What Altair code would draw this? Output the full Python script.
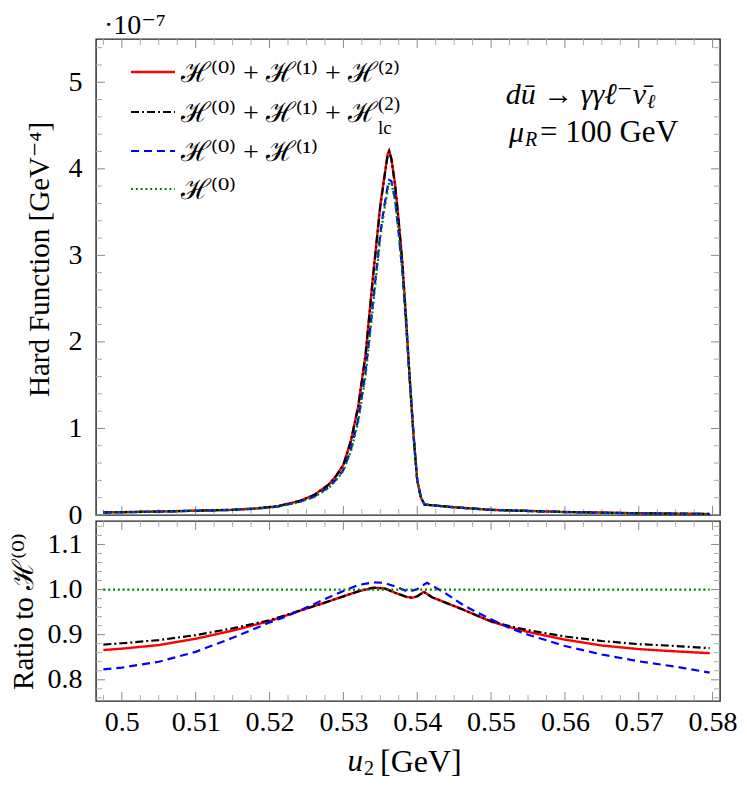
import altair as alt
import pandas as pd

FONT = "Liberation Serif, DejaVu Serif"

# ---------------- data ----------------
# top panel: hard function, in units of 1e-7 GeV^-4
u_top = [0.4975, 0.505, 0.51, 0.515, 0.518, 0.521, 0.524, 0.526, 0.528, 0.529,
         0.53, 0.531, 0.532, 0.533, 0.534, 0.535, 0.5355, 0.536, 0.5362, 0.5365,
         0.537, 0.5375, 0.538, 0.5385, 0.539, 0.5395, 0.54, 0.5405, 0.541, 0.545,
         0.55, 0.56, 0.57, 0.5796]
h_nnlo = [0.03, 0.04, 0.05, 0.06, 0.075, 0.10, 0.16, 0.23, 0.35, 0.45,
          0.58, 0.85, 1.25, 1.85, 2.75, 3.58, 3.88, 4.17, 4.21, 4.12,
          3.82, 3.39, 2.90, 2.25, 1.55, 0.92, 0.40, 0.20, 0.12, 0.09,
          0.06, 0.035, 0.02, 0.012]
h_nnlo_lc = [0.03, 0.04, 0.05, 0.06, 0.075, 0.10, 0.16, 0.23, 0.35, 0.45,
             0.58, 0.85, 1.25, 1.85, 2.74, 3.57, 3.87, 4.16, 4.20, 4.11,
             3.81, 3.38, 2.90, 2.25, 1.55, 0.92, 0.40, 0.20, 0.12, 0.09,
             0.06, 0.035, 0.02, 0.012]
h_nlo = [0.028, 0.038, 0.048, 0.058, 0.072, 0.095, 0.15, 0.21, 0.32, 0.41,
         0.52, 0.75, 1.10, 1.65, 2.45, 3.25, 3.55, 3.80, 3.87, 3.86,
         3.65, 3.25, 2.80, 2.20, 1.55, 0.92, 0.40, 0.20, 0.12, 0.088,
         0.058, 0.033, 0.019, 0.011]
h_lo = [0.028, 0.038, 0.048, 0.058, 0.072, 0.094, 0.148, 0.205, 0.31, 0.40,
        0.51, 0.73, 1.07, 1.60, 2.40, 3.20, 3.50, 3.76, 3.84, 3.84,
        3.63, 3.24, 2.80, 2.20, 1.55, 0.92, 0.40, 0.20, 0.12, 0.088,
        0.058, 0.033, 0.019, 0.011]

# bottom panel: ratio to H^(0)
u_ratio = [0.4975, 0.5, 0.505, 0.51, 0.515, 0.52, 0.5225, 0.525, 0.5275, 0.53,
           0.532, 0.534, 0.5355, 0.537, 0.5385, 0.5393, 0.54, 0.5409, 0.542, 0.544,
           0.546, 0.548, 0.55, 0.5525, 0.555, 0.56, 0.565, 0.57, 0.575, 0.5796]
r_nnlo = [0.866, 0.869, 0.877, 0.891, 0.909, 0.930, 0.944, 0.958, 0.971, 0.985,
          0.996, 1.004, 1.003, 0.993, 0.984, 0.982, 0.985, 0.995, 0.983, 0.970,
          0.957, 0.943, 0.929, 0.917, 0.906, 0.889, 0.876, 0.868, 0.863, 0.859]
r_nnlo_lc = [0.878, 0.881, 0.888, 0.899, 0.914, 0.932, 0.945, 0.958, 0.971, 0.985,
             0.996, 1.004, 1.003, 0.993, 0.984, 0.982, 0.985, 0.995, 0.983, 0.970,
             0.957, 0.943, 0.930, 0.919, 0.910, 0.896, 0.886, 0.879, 0.875, 0.870]
u_ratio_nlo = [0.4975, 0.5, 0.505, 0.51, 0.515, 0.52, 0.5225, 0.525, 0.5275, 0.53,
               0.532, 0.534, 0.5355, 0.537, 0.5388, 0.540, 0.5413, 0.542, 0.544, 0.546,
               0.548, 0.55, 0.5525, 0.555, 0.56, 0.565, 0.57, 0.575, 0.5796]
r_nlo = [0.823, 0.827, 0.840, 0.862, 0.893, 0.927, 0.942, 0.960, 0.979, 0.997,
         1.010, 1.016, 1.015, 1.007, 0.995, 1.001, 1.015, 1.009, 0.990, 0.968,
         0.950, 0.934, 0.915, 0.900, 0.875, 0.856, 0.841, 0.829, 0.816]
u_ratio_lo = [0.4975, 0.5796]
r_lo = [1.0, 1.0]

# axes / ticks
x_domain = [0.4965, 0.581]
top_domain = [0.0, 5.5]
bot_domain = [0.753, 1.152]
x_major = [0.50, 0.51, 0.52, 0.53, 0.54, 0.55, 0.56, 0.57, 0.58]
x_minor = [0.4975] + [round(0.5 + 0.0025 * i, 4) for i in range(1, 33) if i % 4 != 0]
top_major = [0, 1, 2, 3, 4, 5]
top_minor = [round(0.2 * i, 1) for i in range(1, 28) if i % 5 != 0]
bot_major = [0.8, 0.9, 1.0, 1.1]
bot_minor = [round(0.76 + 0.02 * i, 2) for i in range(0, 20)
             if round(0.76 + 0.02 * i, 2) not in (0.8, 0.9, 1.0, 1.1)]
bot_minor = [v for v in bot_minor if bot_domain[0] <= v <= bot_domain[1]]

legend_labels = ["ℋ⁽⁰⁾ + ℋ⁽¹⁾ + ℋ⁽²⁾", "ℋ⁽⁰⁾ + ℋ⁽¹⁾ + ℋ", "ℋ⁽⁰⁾ + ℋ⁽¹⁾", "ℋ⁽⁰⁾"]

styles = {
    "nnlo": dict(color="#ff0000", dash=[1, 0], width=2.4),
    "nnlo_lc": dict(color="#000000", dash=[8, 3, 2, 3], width=2.2),
    "nlo": dict(color="#0000ff", dash=[8, 5], width=2.2),
    "lo": dict(color="#008000", dash=[2, 2.8], width=2.2),
}
order = ["nnlo", "nnlo_lc", "nlo", "lo"]

W = 624
H_TOP = 476
H_BOT = 180

xs = alt.Scale(domain=x_domain, nice=False, zero=False)
ys_top = alt.Scale(domain=top_domain, nice=False, zero=False)
ys_bot = alt.Scale(domain=bot_domain, nice=False, zero=False)

top_yaxis = alt.Axis(values=top_major, format="d", title="Hard Function [GeV⁻⁴]",
                     labelPadding=14, titlePadding=14, titleY=220)
bot_yaxis = alt.Axis(values=bot_major, format=".1f", title="Ratio to ℋ⁽⁰⁾",
                     labelPadding=14, titlePadding=9)
bot_xaxis = alt.Axis(values=x_major, format="~f", title=None, labelPadding=7)

one = pd.DataFrame({"k": [0]})


def line_layer(u, v, key, yscale, yaxis, xaxis):
    s = styles[key]
    df = pd.DataFrame({"u": u, "v": v})
    return alt.Chart(df).mark_line(color=s["color"], strokeDash=s["dash"],
                                   strokeWidth=s["width"], clip=True).encode(
        x=alt.X("u:Q", scale=xs, axis=xaxis),
        y=alt.Y("v:Q", scale=yscale, axis=yaxis),
    )


def tick_layers(xvals, yvals, yscale, yaxis, xaxis, h, size, color):
    layers = []
    dx = pd.DataFrame({"u": xvals})
    dy = pd.DataFrame({"v": yvals})
    layers.append(alt.Chart(dx).mark_rule(color=color, strokeWidth=1).encode(
        x=alt.X("u:Q", scale=xs, axis=xaxis), y=alt.value(0), y2=alt.value(size)))
    layers.append(alt.Chart(dx).mark_rule(color=color, strokeWidth=1).encode(
        x=alt.X("u:Q", scale=xs, axis=xaxis), y=alt.value(h), y2=alt.value(h - size)))
    layers.append(alt.Chart(dy).mark_rule(color=color, strokeWidth=1).encode(
        y=alt.Y("v:Q", scale=yscale, axis=yaxis), x=alt.value(0), x2=alt.value(size)))
    layers.append(alt.Chart(dy).mark_rule(color=color, strokeWidth=1).encode(
        y=alt.Y("v:Q", scale=yscale, axis=yaxis), x=alt.value(W), x2=alt.value(W - size)))
    return layers


def txt(s, x, y, size=28, align="left", style="normal", baseline="middle"):
    return alt.Chart(one).mark_text(align=align, baseline=baseline, font=FONT,
                                    fontSize=size, fontStyle=style, color="black").encode(
        x=alt.value(x), y=alt.value(y), text=alt.value(s))


def legend_rule(key, y):
    s = styles[key]
    return alt.Chart(one).mark_rule(color=s["color"], strokeDash=s["dash"],
                                    strokeWidth=s["width"]).encode(
        x=alt.value(35), x2=alt.value(79), y=alt.value(y))


# ---------------- top panel ----------------
top_layers = []
top_layers += tick_layers(x_minor, top_minor, ys_top, top_yaxis, None, H_TOP, 6, "#aaaaaa")
top_layers += tick_layers(x_major, top_major, ys_top, top_yaxis, None, H_TOP, 9, "#888888")
top_series = {"nnlo": h_nnlo, "nnlo_lc": h_nnlo_lc, "nlo": h_nlo, "lo": h_lo}
for k in order:
    top_layers.append(line_layer(u_top, top_series[k], k, ys_top, top_yaxis, None))

leg_y = [33, 73, 112, 150]
for k, y, lab in zip(order, leg_y, legend_labels):
    top_layers.append(legend_rule(k, y))
    top_layers.append(txt(lab, 85, y + 2))
# super/subscript of the leading-colour term
top_layers.append(txt("(2)", 282, 65, size=19))
top_layers.append(txt("lc", 282, 89, size=19))

top_layers.append(txt("dū → γγℓ⁻ν̄", 550, 56, size=30, style="italic", align="right"))
top_layers.append(txt("ℓ", 551, 63, size=20, style="italic"))
top_layers.append(txt("μ", 428, 94, size=30, style="italic", align="right"))
top_layers.append(txt("R", 429, 101, size=20, style="italic"))
top_layers.append(txt("= 100 GeV", 444, 94, size=31))
top_layers.append(txt("·10⁻⁷", 8, -13, size=28))

top = alt.layer(*top_layers).properties(width=W, height=H_TOP)

# ---------------- bottom panel ----------------
bot_layers = []
bot_layers += tick_layers(x_minor, bot_minor, ys_bot, bot_yaxis, bot_xaxis, H_BOT, 6, "#aaaaaa")
bot_layers += tick_layers(x_major, bot_major, ys_bot, bot_yaxis, bot_xaxis, H_BOT, 9, "#888888")
bot_series = {"nnlo": (u_ratio, r_nnlo), "nnlo_lc": (u_ratio, r_nnlo_lc),
              "nlo": (u_ratio_nlo, r_nlo), "lo": (u_ratio_lo, r_lo)}
for k in order:
    uu, vv = bot_series[k]
    bot_layers.append(line_layer(uu, vv, k, ys_bot, bot_yaxis, bot_xaxis))

# x-axis title u_2 [GeV]
bot_layers.append(txt("u", 267, H_BOT + 61, size=31, style="italic", align="right"))
bot_layers.append(txt("2", 268, H_BOT + 68, size=20))
bot_layers.append(txt("[GeV]", 284, H_BOT + 61, size=32))

bottom = alt.layer(*bot_layers).properties(width=W, height=H_BOT)

chart = alt.vconcat(top, bottom, spacing=6, bounds="flush").properties(
    padding={"left": 0, "top": 3, "right": 0, "bottom": 0}
).configure_view(stroke="#222222", strokeWidth=1.4).configure_axis(
    labelFont=FONT, titleFont=FONT, labelFontSize=28, titleFontSize=29,
    titleFontWeight="normal", labelColor="black", titleColor="black",
    grid=False, domain=False, ticks=False,
)

chart.save("out.html", embed_options={"renderer": "svg", "actions": False})
